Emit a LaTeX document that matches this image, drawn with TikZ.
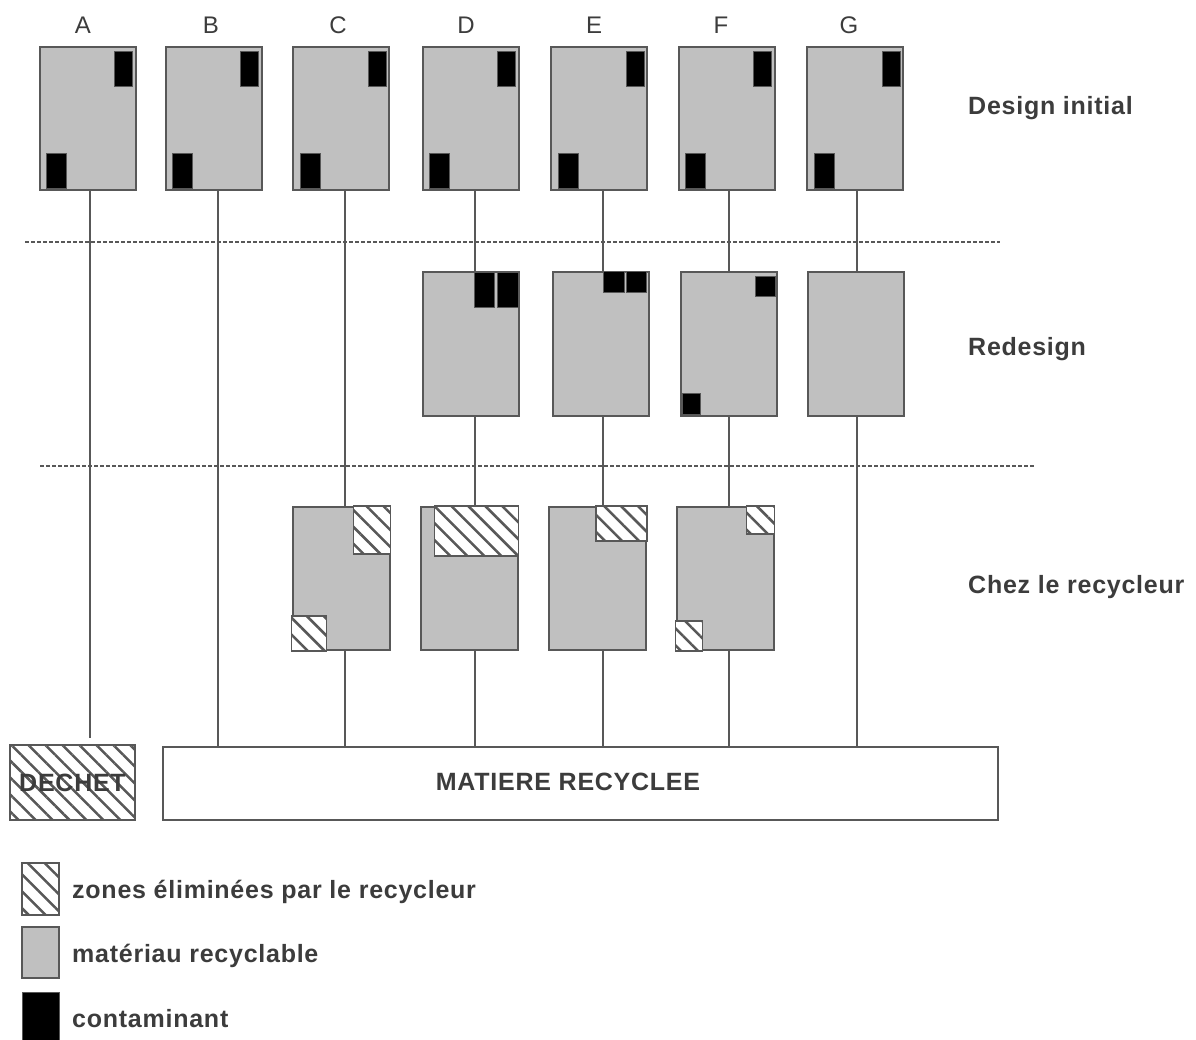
\documentclass[tikz,border=0pt]{standalone}
\usepackage{fontspec}
\setmainfont{Liberation Sans}
\usetikzlibrary{patterns.meta}
\definecolor{matgray}{HTML}{C0C0C0}
\definecolor{edge}{HTML}{585858}
\definecolor{txt}{HTML}{3C3C3C}
\begin{document}
\begin{tikzpicture}[x=1pt,y=-1pt,
  part/.style={draw=edge,line width=2pt,fill=matgray,inner sep=0pt,minimum width=96pt,minimum height=143pt},
  cont/.style={fill=black,draw=edge,line width=1pt},
  hatch/.style={draw=edge,line width=1.5pt,preaction={fill=white},
     pattern={Lines[angle=-45,distance=12pt,line width=2.5pt]},pattern color=edge},
  link/.style={draw=edge,line width=2pt},
  sep/.style={draw=edge,line width=1.5pt,dash pattern=on 4pt off 2pt},
  lab/.style={font=\fontsize{25}{25}\selectfont\bfseries\addfontfeatures{LetterSpace=3},text=txt,inner sep=0pt},
  col/.style={font=\fontsize{24}{24}\selectfont,text=txt,inner sep=0pt,anchor=base}]
\useasboundingbox (0,0) rectangle (1196,1039);

% column letters
\foreach \n/\x in {A/83,B/211,C/338,D/466,E/594,F/721,G/849}
  \node[col] (L\n) at (\x,33) {\n};

% right labels
\node[lab,anchor=base west] (tDesign) at (968,114) {Design initial};
\node[lab,anchor=base west] (tRedesign) at (968,355) {Redesign};
\node[lab,anchor=base west] (tChez) at (968,593) {Chez le recycleur};

% separators
\draw[sep] (25,242) -- (1000,242);
\draw[sep] (40,466) -- (1035,466);

% line x positions
\foreach \n/\x in {A/90,B/218,C/345,D/475,E/602.5,F/729,G/857}
  \coordinate (x\n) at (\x,0);

% ---- Design initial row
\foreach \n/\x in {A/87.5,B/213.5,C/341,D/470.5,E/599,F/726.5,G/855}{
  \node[part] (\n1) at (\x,118.5) {};
  \draw[cont] ([xshift=-22pt,yshift=-5pt]\n1.north east) rectangle ([xshift=-4pt,yshift=-40pt]\n1.north east);
  \draw[cont] ([xshift=8pt,yshift=3pt]\n1.south west) rectangle ([xshift=28pt,yshift=38pt]\n1.south west);
}

% ---- Redesign row
\foreach \n/\x in {D/471,E/600.5,F/728.5,G/856}
  \node[part,minimum height=144pt] (\n2) at (\x,344) {};
\draw[cont] ([xshift=-46pt,yshift=-1pt]D2.north east) rectangle ([xshift=-26pt,yshift=-36pt]D2.north east);
\draw[cont] ([xshift=-23pt,yshift=-1pt]D2.north east) rectangle ([xshift=-2pt,yshift=-36pt]D2.north east);
\draw[cont] ([xshift=-46pt,yshift=0pt]E2.north east) rectangle ([xshift=-25pt,yshift=-21pt]E2.north east);
\draw[cont] ([xshift=-23pt,yshift=0pt]E2.north east) rectangle ([xshift=-3pt,yshift=-21pt]E2.north east);
\draw[cont] ([xshift=-22pt,yshift=-5pt]F2.north east) rectangle ([xshift=-2pt,yshift=-25pt]F2.north east);
\draw[cont] ([xshift=3pt,yshift=3pt]F2.south west) rectangle ([xshift=21pt,yshift=24pt]F2.south west);

% ---- Chez le recycleur row
\foreach \n/\x in {C/341,D/469,E/597.5,F/725}
  \node[part,minimum width=97pt] (\n3) at (\x,578.5) {};
\draw[hatch] (C3.north east) rectangle ([xshift=-37pt,yshift=-48pt]C3.north east);
\draw[hatch] (C3.south west) rectangle ([xshift=35pt,yshift=35pt]C3.south west);
\draw[hatch] (D3.north east) rectangle ([xshift=-84pt,yshift=-50pt]D3.north east);
\draw[hatch] (E3.north east) rectangle ([xshift=-51pt,yshift=-35pt]E3.north east);
\draw[hatch] (F3.north east) rectangle ([xshift=-28pt,yshift=-28pt]F3.north east);
\draw[hatch] (F3.south west) rectangle ([xshift=27pt,yshift=30pt]F3.south west);

% ---- bottom boxes
\node[hatch,lab,minimum width=125pt,minimum height=75pt] (Dec) at (72.5,782.5) {DECHET};
\node[draw=edge,line width=2pt,fill=white,minimum width=835pt,minimum height=73pt,inner sep=0pt] (M) at (580.5,783.5) {};
\node[lab,anchor=base] (Mtext) at (568,790) {MATIERE RECYCLEE};
\coordinate (Aend) at (90,738);

% ---- connectors
\draw[link] (xA |- A1.south) -- (Aend);
\draw[link] (xB |- B1.south) -- (xB |- M.north);
\draw[link] (xC |- C1.south) -- (xC |- C3.north);
\draw[link] (xC |- C3.south) -- (xC |- M.north);
\foreach \n in {D,E,F}{
  \draw[link] (x\n |- \n1.south) -- (x\n |- \n2.north);
  \draw[link] (x\n |- \n2.south) -- (x\n |- \n3.north);
  \draw[link] (x\n |- \n3.south) -- (x\n |- M.north);
}
\draw[link] (xG |- G1.south) -- (xG |- G2.north);
\draw[link] (xG |- G2.south) -- (xG |- M.north);

% ---- legend
\node[hatch,minimum width=37pt,minimum height=52pt,inner sep=0pt] (K1) at (40.5,889) {};
\node[part,minimum width=37pt,minimum height=51pt] (K2) at (40.5,952.5) {};
\node[fill=black,draw=edge,line width=1pt,minimum width=37pt,minimum height=52pt,inner sep=0pt] (K3) at (40.5,1018) {};
\node[lab,anchor=base west] (k1t) at (72,898) {zones éliminées par le recycleur};
\node[lab,anchor=base west] (k2t) at (72,962) {matériau recyclable};
\node[lab,anchor=base west] (k3t) at (72,1027) {contaminant};
\end{tikzpicture}
\end{document}
